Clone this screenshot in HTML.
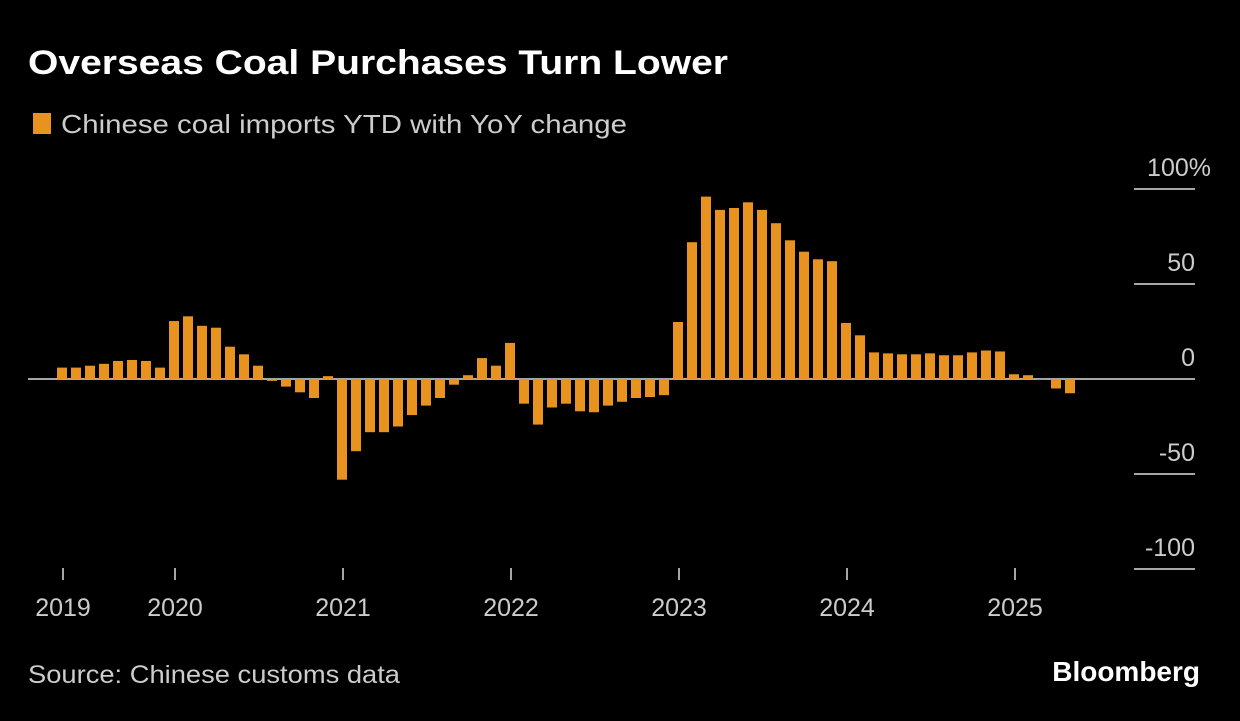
<!DOCTYPE html>
<html><head><meta charset="utf-8"><style>
body{margin:0;background:#000;width:1240px;height:716px;overflow:hidden;font-family:"Liberation Sans",sans-serif;color:#fff}
</style></head><body>
<svg width="1240" height="716">
<text x="28" y="74" font-size="34" font-weight="bold" fill="#fff" textLength="700" lengthAdjust="spacingAndGlyphs">Overseas Coal Purchases Turn Lower</text>
<rect x="33" y="113" width="18" height="21" fill="#e8921f"/>
<text x="61" y="133" font-size="26" fill="#ccc" textLength="566" lengthAdjust="spacingAndGlyphs">Chinese coal imports YTD with YoY change</text>
<g id="grid"></g><g id="bars"></g><g id="xaxis"></g>
<text x="28" y="683" font-size="25" fill="#ccc" textLength="372" lengthAdjust="spacingAndGlyphs">Source: Chinese customs data</text>
<text x="1200" y="681" font-size="28" font-weight="bold" fill="#fff" text-anchor="end">Bloomberg</text>
</svg>
<script>
const values=[6,6,7,8,9.5,10,9.5,6,
30.5,33,28,27,17,13,7,-1,-4,-7,-10,1.5,
-53,-38,-28,-28,-25,-19,-14,-10,-3,2,11,7,
19,-13,-24,-15,-13,-17,-17.5,-14,-12,-10,-9.5,-8.5,
30,72,96,89,90,93,89,82,73,67,63,62,
29.5,23,14,13.5,13,13,13.5,12.5,12.5,14,15,14.5,
2.5,2,-0.5,-5,-7.5];
const yearLabels=["2019","2020","2021","2022","2023","2024","2025"];
const yearStartIdx=[0,8,20,32,44,56,68];
const yTicks=[100,50,0,-50,-100];
const NS="http://www.w3.org/2000/svg";
const y=v=>379-v*1.9, x=i=>62+i*14;
function mk(t,a,p){const e=document.createElementNS(NS,t);for(const k in a)e.setAttribute(k,a[k]);p.appendChild(e);return e;}
const grid=document.getElementById('grid'),bars=document.getElementById('bars'),xa=document.getElementById('xaxis');
yTicks.forEach(v=>{
 if(v!==0){const l=mk('line',{x1:1134,x2:1195,y1:y(v),y2:y(v),stroke:'#ddd','stroke-width':1.5},grid);
 
 }
 const t=mk('text',{x:v===100?1211:1195,y:y(v)-13,'font-size':25,fill:'#ccc','text-anchor':'end'},grid);
 t.textContent=v===100?'100%':String(v);
 
 
});
values.forEach((v,i)=>{
 const r=mk('rect',{x:x(i)-5,y:Math.min(y(v),y(0)),width:10,height:Math.abs(y(v)-y(0)),fill:'#e8921f'},bars);
 
 
});
const z=mk('line',{x1:28,x2:1195,y1:y(0),y2:y(0),stroke:'#ddd','stroke-width':1.5},grid);


yearLabels.forEach((lab,k)=>{
 const px=x(yearStartIdx[k])+1;
 const tk=mk('line',{x1:px,x2:px,y1:568,y2:580,stroke:'#ddd','stroke-width':1.5},xa);
 
 
 const t=mk('text',{x:px,y:616,'font-size':25,fill:'#ccc','text-anchor':'middle'},xa);
 t.textContent=lab;
 
 
});
</script>
</body></html>
